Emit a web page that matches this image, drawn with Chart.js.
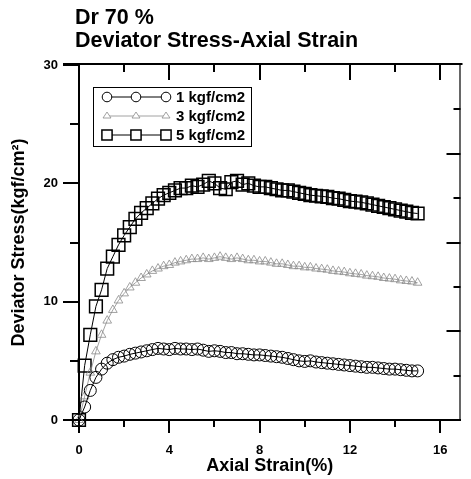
<!DOCTYPE html>
<html>
<head>
<meta charset="utf-8">
<script src="https://cdn.jsdelivr.net/npm/chart.js@4.4.1/dist/chart.umd.min.js"></script>
<style>
  html, body { margin: 0; padding: 0; background: #fff; overflow: hidden; }
  #wrap { width: 471px; height: 479px; position: relative; }
</style>
</head>
<body>
<div id="wrap"><canvas id="stressChart" width="471" height="479"></canvas></div>
<script>
// axial strain (%) readings, shared by all three tests
const strain = [
  0, 0.25, 0.5, 0.75, 1, 1.25, 1.5, 1.75, 2, 2.25, 2.5, 2.75, 3, 3.25, 3.5, 3.75,
  4, 4.25, 4.5, 4.75, 5, 5.25, 5.5, 5.75, 6, 6.25, 6.5, 6.75, 7, 7.25, 7.5, 7.75,
  8, 8.25, 8.5, 8.75, 9, 9.25, 9.5, 9.75, 10, 10.25, 10.5, 10.75, 11, 11.25, 11.5, 11.75,
  12, 12.25, 12.5, 12.75, 13, 13.25, 13.5, 13.75, 14, 14.25, 14.5, 14.75, 15
];

// deviator stress (kgf/cm2) for each confining pressure
const stress1 = [
  0, 1.1, 2.5, 3.6, 4.3, 4.8, 5.1, 5.3, 5.4, 5.55, 5.65, 5.75, 5.85, 5.95, 6.05, 6.0,
  5.95, 6.05, 6.0, 6.0, 5.95, 6.0, 5.9, 5.8, 5.85, 5.8, 5.7, 5.7, 5.6, 5.6, 5.55, 5.5,
  5.5, 5.45, 5.4, 5.35, 5.3, 5.2, 5.1, 5.0, 4.95, 5.0, 4.9, 4.85, 4.8, 4.75, 4.7, 4.65,
  4.6, 4.55, 4.5, 4.45, 4.45, 4.4, 4.35, 4.3, 4.3, 4.25, 4.2, 4.15, 4.15
];
const stress3 = [
  0, 2.0, 4.0, 5.8, 7.2, 8.4, 9.3, 10.1, 10.7, 11.2, 11.6, 12.0, 12.3, 12.6, 12.8, 13.0,
  13.1, 13.3, 13.4, 13.5, 13.6, 13.6, 13.7, 13.6, 13.7, 13.8, 13.7, 13.6, 13.7, 13.6, 13.5, 13.5,
  13.4, 13.4, 13.3, 13.2, 13.2, 13.1, 13.0, 13.0, 12.9, 12.9, 12.8, 12.75, 12.7, 12.6, 12.55, 12.5,
  12.4, 12.35, 12.3, 12.2, 12.15, 12.1, 12.0, 11.95, 11.9, 11.8, 11.75, 11.7, 11.6
];
const stress5 = [
  0, 4.6, 7.2, 9.6, 11.0, 12.8, 13.8, 14.8, 15.6, 16.3, 17.0, 17.5, 17.9, 18.3, 18.7, 19.0,
  19.2, 19.4, 19.6, 19.6, 19.8, 19.7, 19.9, 20.2, 20.0, 19.6, 19.5, 20.1, 20.2, 19.9, 20.0, 19.8,
  19.7, 19.7, 19.6, 19.5, 19.4, 19.4, 19.3, 19.2, 19.1, 19.0, 18.95, 18.9, 18.85, 18.75, 18.7, 18.6,
  18.5, 18.45, 18.4, 18.3, 18.2, 18.1, 18.0, 17.9, 17.8, 17.7, 17.6, 17.5, 17.45
];

const seriesLabels = ['1 kgf/cm2', '3 kgf/cm2', '5 kgf/cm2'];
const xTickLabels = ['0', '4', '8', '12', '16'];
const yTickLabels = ['0', '10', '20', '30'];
const titleLines = ['Dr 70 %', 'Deviator Stress-Axial Strain'];

const FONT = '"Liberation Sans", Arial, sans-serif';

function toPoints(ys) {
  return strain.map((x, i) => ({ x: x, y: ys[i] }));
}

// hand-drawn style ticks: outward on left/bottom, inward on top/right
const frameTicks = {
  id: 'frameTicks',
  afterDraw(chart) {
    const ctx = chart.ctx;
    const a = chart.chartArea;
    const xs = chart.scales.x, ys = chart.scales.y, rs = chart.scales.y1;
    ctx.save();
    ctx.strokeStyle = '#000';
    ctx.lineCap = 'butt';

    // top and right frame lines
    ctx.lineWidth = 2;
    ctx.beginPath();
    ctx.moveTo(a.left - 16, a.top - 1);
    ctx.lineTo(a.right + 2, a.top - 1);
    ctx.stroke();
    ctx.lineWidth = 1.2;
    ctx.beginPath();
    ctx.moveTo(a.right - 0.5, a.top);
    ctx.lineTo(a.right - 0.5, a.bottom);
    ctx.stroke();

    ctx.lineWidth = 2;
    xs.ticks.forEach(t => {
      const px = Math.round(xs.getPixelForValue(t.value));
      const major = t.value % 4 === 0;
      // bottom: outward
      ctx.beginPath();
      ctx.moveTo(px, a.bottom);
      ctx.lineTo(px, a.bottom + (major ? 13 : 7));
      ctx.stroke();
      // top: inward
      if (t.value > 0) {
        ctx.beginPath();
        ctx.moveTo(px, a.top - 1);
        ctx.lineTo(px, a.top + (major ? 15 : 7));
        ctx.stroke();
      }
    });

    ys.ticks.forEach(t => {
      const py = Math.round(ys.getPixelForValue(t.value));
      const major = t.value % 10 === 0;
      ctx.beginPath();
      ctx.moveTo(a.left, py);
      ctx.lineTo(a.left - (major ? 16 : 9), py);
      ctx.stroke();
    });

    rs.ticks.forEach(t => {
      if (t.value <= rs.min || t.value >= rs.max) return;
      const py = Math.round(rs.getPixelForValue(t.value));
      const major = t.value % 2 === 0;
      ctx.beginPath();
      ctx.moveTo(a.right, py);
      ctx.lineTo(a.right - (major ? 14 : 7), py);
      ctx.stroke();
    });
    ctx.restore();
  }
};

// two-line bold heading above the frame
const heading = {
  id: 'heading',
  afterDraw(chart) {
    const ctx = chart.ctx;
    ctx.save();
    ctx.fillStyle = '#000';
    ctx.font = 'bold 21.5px ' + FONT;
    ctx.textBaseline = 'alphabetic';
    ctx.fillText(titleLines[0], 75, 24);
    ctx.fillText(titleLines[1], 75, 47);
    ctx.restore();
  }
};

function drawMarker(ctx, ds, x, y, r) {
  ctx.save();
  ctx.strokeStyle = ds.pointBorderColor;
  ctx.lineWidth = ds.pointBorderWidth;
  ctx.fillStyle = '#fff';
  ctx.beginPath();
  if (ds.pointStyle === 'circle') {
    ctx.arc(x, y, r, 0, Math.PI * 2);
  } else if (ds.pointStyle === 'rect') {
    const s = r * Math.SQRT1_2;
    ctx.rect(x - s, y - s, 2 * s, 2 * s);
  } else {
    const w = r * Math.sqrt(3) / 2;
    ctx.moveTo(x, y - r);
    ctx.lineTo(x + w * 1.15, y + r * 0.5);
    ctx.lineTo(x - w * 1.15, y + r * 0.5);
    ctx.closePath();
  }
  ctx.fill();
  ctx.stroke();
  ctx.restore();
}

// boxed legend with marker-line-marker samples
const boxLegend = {
  id: 'boxLegend',
  afterDraw(chart) {
    const ctx = chart.ctx;
    const left = 93, top = 87, w = 158, h = 59;
    ctx.save();
    ctx.strokeStyle = '#000';
    ctx.lineWidth = 1;
    ctx.strokeRect(left + 0.5, top + 0.5, w, h);
    ctx.font = 'bold 15px ' + FONT;
    ctx.textBaseline = 'middle';
    chart.data.datasets.forEach((ds, i) => {
      const cy = top + 10 + i * 19;
      const mx = [107, 136, 166];
      ctx.strokeStyle = ds.borderColor;
      ctx.lineWidth = ds.borderWidth;
      ctx.beginPath();
      ctx.moveTo(mx[0], cy);
      ctx.lineTo(mx[2], cy);
      ctx.stroke();
      mx.forEach(x => drawMarker(ctx, ds, x, cy, ds.pointRadius * 0.8));
      ctx.fillStyle = '#000';
      ctx.fillText(ds.label, 176, cy + 1);
    });
    ctx.restore();
  }
};

const ctx = document.getElementById('stressChart').getContext('2d');
new Chart(ctx, {
  type: 'scatter',
  data: {
    datasets: [
      {
        label: seriesLabels[0],
        data: toPoints(stress1),
        showLine: true,
        borderColor: '#000',
        borderWidth: 1,
        pointStyle: 'circle',
        pointRadius: 6,
        pointBorderColor: '#000',
        pointBorderWidth: 1,
        pointBackgroundColor: 'rgba(255,255,255,0)',
        clip: false
      },
      {
        label: seriesLabels[1],
        data: toPoints(stress3),
        showLine: true,
        borderColor: '#8a8a8a',
        borderWidth: 0.8,
        pointStyle: 'triangle',
        pointRadius: 5,
        pointBorderColor: '#8a8a8a',
        pointBorderWidth: 0.8,
        pointBackgroundColor: 'rgba(255,255,255,0)',
        clip: false
      },
      {
        label: seriesLabels[2],
        data: toPoints(stress5),
        showLine: true,
        borderColor: '#000',
        borderWidth: 1,
        pointStyle: 'rect',
        pointRadius: 9,
        pointBorderColor: '#000',
        pointBorderWidth: 1.5,
        pointBackgroundColor: 'rgba(255,255,255,0)',
        clip: false
      }
    ]
  },
  options: {
    responsive: false,
    animation: false,
    layout: { padding: { top: 65, right: 1, bottom: 0, left: 0 } },
    plugins: {
      legend: { display: false },
      tooltip: { enabled: false },
      title: { display: false }
    },
    scales: {
      x: {
        type: 'linear',
        min: 0,
        max: 16.9,
        afterFit: s => { s.height = 59; },
        afterBuildTicks: s => {
          s.ticks = [0, 2, 4, 6, 8, 10, 12, 14, 16].map(v => ({ value: v }));
        },
        ticks: {
          padding: 23,
          maxRotation: 0,
          autoSkip: false,
          color: '#000',
          font: { family: FONT, size: 13, weight: 'bold' },
          callback: v => (v % 4 === 0 ? xTickLabels[v / 4] : '')
        },
        grid: { display: false, drawTicks: false },
        border: { display: true, color: '#000', width: 2 },
        title: {
          display: true,
          text: 'Axial Strain(%)',
          color: '#000',
          font: { family: FONT, size: 18, weight: 'bold' },
          padding: { top: 0, bottom: 2 }
        }
      },
      y: {
        type: 'linear',
        position: 'left',
        min: 0,
        max: 30,
        afterFit: s => { s.width = 79; },
        afterBuildTicks: s => {
          s.ticks = [0, 5, 10, 15, 20, 25, 30].map(v => ({ value: v }));
        },
        ticks: {
          padding: 21,
          autoSkip: false,
          color: '#000',
          font: { family: FONT, size: 13, weight: 'bold' },
          callback: v => (v % 10 === 0 ? yTickLabels[v / 10] : '')
        },
        grid: { display: false, drawTicks: false },
        border: { display: true, color: '#000', width: 2 },
        title: {
          display: true,
          text: 'Deviator Stress(kgf/cm\u00B2)',
          color: '#000',
          font: { family: FONT, size: 18, weight: 'bold' },
          padding: { top: 8, bottom: 0 }
        }
      },
      y1: {
        type: 'linear',
        position: 'right',
        min: 0,
        max: 8,
        afterFit: s => { s.width = 0; },
        afterBuildTicks: s => {
          s.ticks = [1, 2, 3, 4, 5, 6, 7].map(v => ({ value: v }));
        },
        ticks: { display: false },
        grid: { display: false, drawTicks: false },
        border: { display: false }
      }
    }
  },
  plugins: [frameTicks, heading, boxLegend]
});
</script>
</body>
</html>
